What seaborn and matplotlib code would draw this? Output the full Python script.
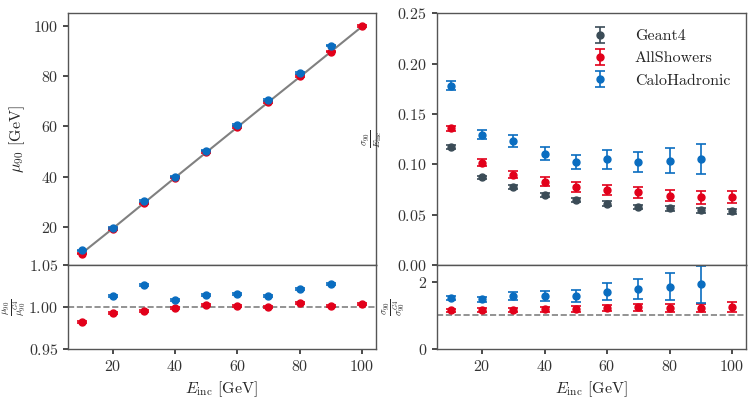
import numpy as np
import pandas as pd
import matplotlib
matplotlib.use("Agg")
import matplotlib.pyplot as plt
import seaborn as sns

# === Daten ===
energies = [10, 20, 30, 40, 50, 60, 70, 80, 90, 100]
labels = ["Geant4", "AllShowers", "CaloHadronic"]
colors = ["#3b4c57", "#e2001a", "#0a6dc0"]

# mu90 [GeV]
mu_g4 = [9.63, 19.50, 29.60, 39.70, 49.70, 59.70, 69.70, 79.60, 89.60, 99.60]
mu_all = [9.46, 19.37, 29.45, 39.65, 49.80, 59.80, 69.70, 80.00, 89.70, 100.00]
mu_calo = [10.77, 19.76, 30.40, 40.05, 50.40, 60.60, 70.60, 81.30, 92.10, np.nan]
mu_err = [0.30, 0.30, 0.30, 0.30, 0.30, 0.30, 0.30, 0.30, 0.30, 0.30]

# mu90 / mu90(G4)
mu_ratio_all = [0.9817, 0.9932, 0.9952, 0.9988, 1.0024, 1.0016, 1.0004, 1.0052, 1.0008, 1.0040]
mu_ratio_calo = [1.118, 1.0135, 1.0267, 1.0088, 1.0139, 1.0151, 1.0127, 1.0211, 1.0275, np.nan]
mu_ratio_err = [0.0012, 0.0012, 0.0012, 0.0012, 0.0012, 0.0012, 0.0012, 0.0012, 0.0012, 0.0012]

# sigma90 / E_inc
res_g4 = [0.1169, 0.0869, 0.0773, 0.0694, 0.0647, 0.0608, 0.0575, 0.0561, 0.0545, 0.0532]
res_g4_err = [0.0018, 0.0018, 0.0020, 0.0020, 0.0022, 0.0022, 0.0023, 0.0024, 0.0025, 0.0026]
res_all = [0.1357, 0.1017, 0.0898, 0.0826, 0.0776, 0.0746, 0.0723, 0.0687, 0.0670, 0.0677]
res_all_err = [0.0026, 0.0030, 0.0038, 0.0045, 0.0050, 0.0050, 0.0055, 0.0055, 0.0060, 0.0060]
res_calo = [0.1780, 0.1295, 0.1229, 0.1106, 0.1024, 0.1047, 0.1024, 0.1037, 0.1050, np.nan]
res_calo_err = [0.0043, 0.0040, 0.0060, 0.0063, 0.0070, 0.0090, 0.0102, 0.0125, 0.0149, np.nan]

# sigma90 / sigma90(G4)
res_ratio_all = [1.15, 1.16, 1.15, 1.18, 1.19, 1.22, 1.24, 1.22, 1.22, 1.25]
res_ratio_all_err = [0.04, 0.05, 0.06, 0.07, 0.08, 0.09, 0.10, 0.11, 0.12, 0.15]
res_ratio_calo = [1.52, 1.48, 1.58, 1.58, 1.58, 1.71, 1.78, 1.85, 1.93, np.nan]
res_ratio_calo_err = [0.07, 0.07, 0.12, 0.14, 0.17, 0.26, 0.30, 0.40, 0.55, np.nan]

# === Stil ===
sns.set_theme(style="ticks")
plt.rcParams["font.family"] = "serif"
plt.rcParams["font.serif"] = ["cmr10"]
plt.rcParams["mathtext.fontset"] = "cm"
plt.rcParams["axes.formatter.use_mathtext"] = True
plt.rcParams["axes.edgecolor"] = "#555555"
plt.rcParams["axes.linewidth"] = 1.0
plt.rcParams["xtick.color"] = "#333333"
plt.rcParams["ytick.color"] = "#333333"
fs = 11.5
fs_frac = 10


def eb(ax, y, yerr, color, label=None):
    ax.errorbar(energies, y, yerr=yerr, fmt="o", color=color, ecolor=color,
                markersize=5, capsize=3.5, elinewidth=1.2, capthick=1.2,
                label=label, linestyle="none")


fig = plt.figure(figsize=(7.53, 3.99), dpi=100)
ax_mu = fig.add_axes([0.090, 0.336, 0.409, 0.631])
ax_mur = fig.add_axes([0.090, 0.125, 0.409, 0.211], sharex=ax_mu)
ax_res = fig.add_axes([0.580, 0.336, 0.411, 0.631], sharex=ax_mu)
ax_resr = fig.add_axes([0.580, 0.125, 0.411, 0.211], sharex=ax_mu)

# --- mu90 ---
sns.lineplot(x=energies, y=mu_g4, ax=ax_mu, color="#808080", linewidth=1.5, zorder=1)
eb(ax_mu, mu_all, mu_err, colors[1])
eb(ax_mu, mu_calo, mu_err, colors[2])
ax_mu.set_ylim(5, 105)
ax_mu.set_yticks([20, 40, 60, 80, 100])
ax_mu.set_ylabel(r"$\mu_{90}$ [GeV]", fontsize=fs)

eb(ax_mur, mu_ratio_all, mu_ratio_err, colors[1])
eb(ax_mur, mu_ratio_calo, mu_ratio_err, colors[2])
ax_mur.axhline(1.0, color="#808080", linestyle="--", linewidth=1.2, zorder=0)
ax_mur.set_ylim(0.95, 1.05)
ax_mur.set_yticks([0.95, 1.00, 1.05])
ax_mur.set_ylabel(r"$\frac{\mu_{90}}{\mu_{90}^{G4}}$", fontsize=fs_frac)
ax_mur.yaxis.set_label_coords(-0.13, 0.5)
ax_mur.set_xlabel(r"$E_{\mathrm{inc}}$ [GeV]", fontsize=fs)

# --- Auflösung ---
eb(ax_res, res_g4, res_g4_err, colors[0], labels[0])
eb(ax_res, res_all, res_all_err, colors[1], labels[1])
eb(ax_res, res_calo, res_calo_err, colors[2], labels[2])
ax_res.set_ylim(0, 0.25)
ax_res.set_yticks([0.0, 0.05, 0.10, 0.15, 0.20, 0.25])
ax_res.set_ylabel(r"$\frac{\sigma_{90}}{E_{\mathrm{inc}}}$", fontsize=fs_frac)
ax_res.yaxis.set_label_coords(-0.168, 0.5)
ax_res.legend(loc="upper right", frameon=False, fontsize=fs, handletextpad=1.2,
              borderaxespad=0.6)

eb(ax_resr, res_ratio_all, res_ratio_all_err, colors[1])
eb(ax_resr, res_ratio_calo, res_ratio_calo_err, colors[2])
ax_resr.axhline(1.0, color="#808080", linestyle="--", linewidth=1.2, zorder=0)
ax_resr.set_ylim(0, 2.5)
ax_resr.set_yticks([0, 2])
ax_resr.set_ylabel(r"$\frac{\sigma_{90}}{\sigma_{90}^{G4}}$", fontsize=fs_frac)
ax_resr.yaxis.set_label_coords(-0.094, 0.5)
ax_resr.set_xlabel(r"$E_{\mathrm{inc}}$ [GeV]", fontsize=fs)

ax_mu.set_xlim(5.5, 104.5)
ax_mu.set_xticks([20, 40, 60, 80, 100])
for ax in [ax_mu, ax_res]:
    ax.tick_params(axis="x", bottom=False, labelbottom=False)
for ax in [ax_mu, ax_mur, ax_res, ax_resr]:
    ax.tick_params(labelsize=fs, length=3.5)

fig.savefig("out.png", dpi=100)
